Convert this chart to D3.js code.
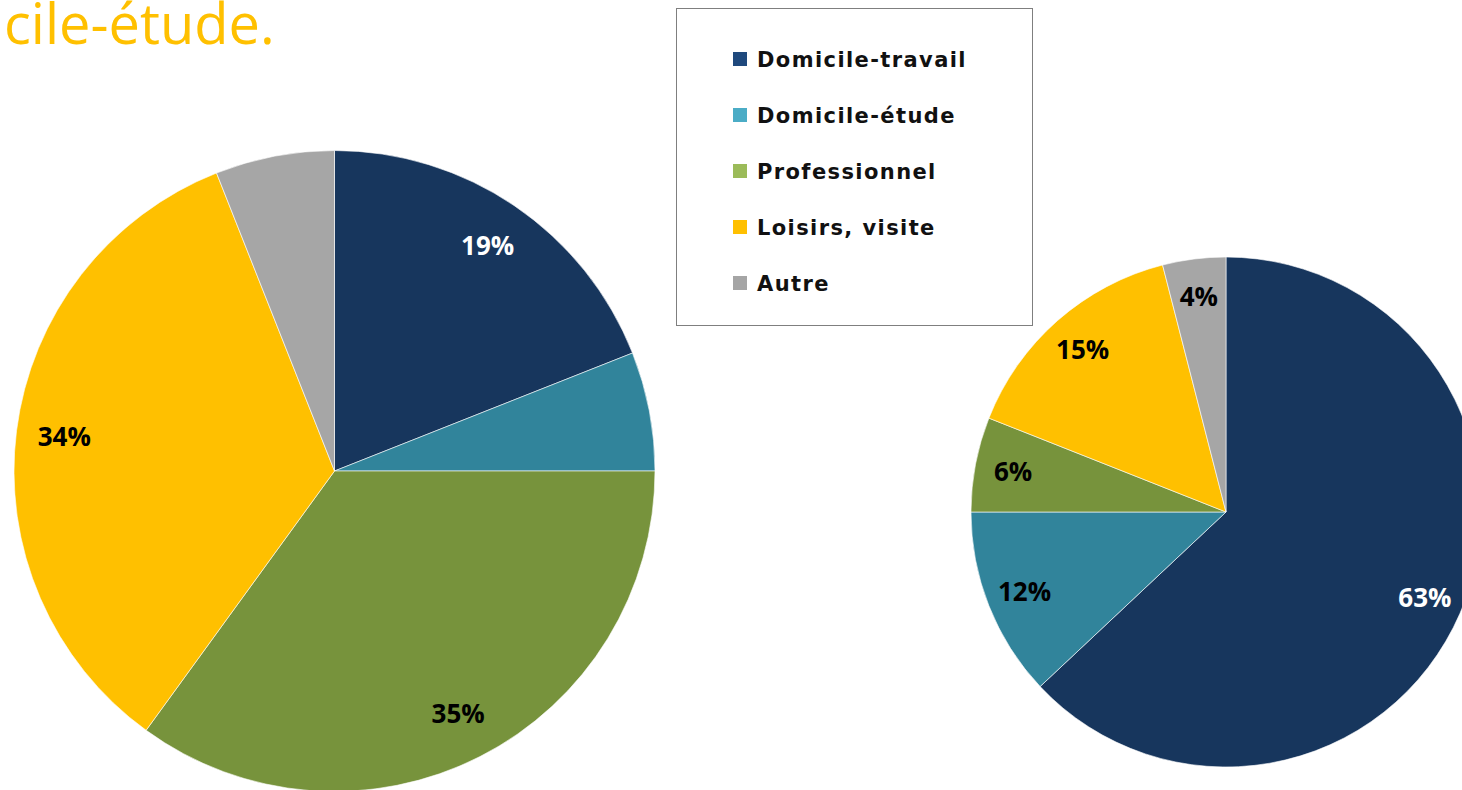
<!DOCTYPE html>
<html>
<meta http-equiv="content-type" content="text/html; charset=UTF8">
<style>
  body {margin:0; background:#fff; overflow:hidden;}
</style>
<body>
<svg id="svg1" width="1462" height="790"></svg>
<script src="https://cdn.jsdelivr.net/npm/d3@7/dist/d3.min.js"></script>
<script>
var categories=["Domicile-travail","Domicile-étude","Professionnel","Loisirs, visite","Autre"];
var pieColors=["#17365D","#31849B","#77933C","#FFC000","#A6A6A6"];
var legendColors=["#1F497D","#4BACC6","#9BBB59","#FFC000","#A5A5A5"];
var leftValues=[19,6,35,34,6];
var leftShown=[true,false,true,true,false];
var rightValues=[63,12,6,15,4];
var rightShown=[true,true,true,true,true];
var labelColors=["#fff","#000","#000","#000","#000"];

var svg=d3.select("#svg1");

// bout de titre coupé en haut
svg.append("text")
  .attr("x",4).attr("y",44)
  .style("font-family","'Open Sans', sans-serif")
  .style("font-size","56px")
  .style("fill","#FFC000")
  .text("cile-étude.");

var pie=d3.pie().sort(null).value(function(d){return d});

var drawPie=function(cx,cy,r,values,shown) {
  var g=svg.append("g").attr("transform","translate("+cx+","+cy+")");
  var arc=d3.arc().innerRadius(0).outerRadius(r);
  var labelArc=d3.arc().innerRadius(r*0.85).outerRadius(r*0.85);
  var arcs=pie(values);
  g.selectAll("path").data(arcs).enter().append("path")
    .attr("d",arc)
    .style("fill",function(d,i){return pieColors[i]})
    .style("stroke","#fff").style("stroke-width","0.6");
  g.selectAll("text").data(arcs.filter(function(d,i){return shown[i]}))
    .enter().append("text")
    .attr("transform",function(d){return "translate("+labelArc.centroid(d)+")"})
    .attr("text-anchor","middle").attr("dy","0.36em")
    .style("font-family","'Open Sans', sans-serif")
    .style("font-weight","bold").style("font-size","26px")
    .style("fill",function(d){return labelColors[d.index]})
    .text(function(d){return d.value+"%"});
}

drawPie(334.5,471,320.5,leftValues,leftShown);
drawPie(1226,512,255,rightValues,rightShown);

// légende
var lg=svg.append("g");
lg.append("rect").attr("x",676.5).attr("y",8.5).attr("width",356).attr("height",317)
  .style("fill","#fff").style("stroke","#7f7f7f").style("stroke-width","1");
var row=d3.scaleBand().domain(categories).range([31,311]);
var items=lg.selectAll("g.item").data(categories).enter().append("g")
  .attr("transform",function(d){return "translate(0,"+(row(d)+row.bandwidth()/2)+")"});
items.append("rect").attr("x",733).attr("y",-7).attr("width",14).attr("height",14)
  .style("fill",function(d,i){return legendColors[i]});
items.append("text").attr("x",757).attr("dy","0.36em")
  .style("font-family","'DejaVu Sans', sans-serif")
  .style("font-weight","bold").style("font-size","21px")
  .style("letter-spacing","1.4px")
  .style("fill","#111")
  .text(function(d){return d});
</script>
</body>
</html>
